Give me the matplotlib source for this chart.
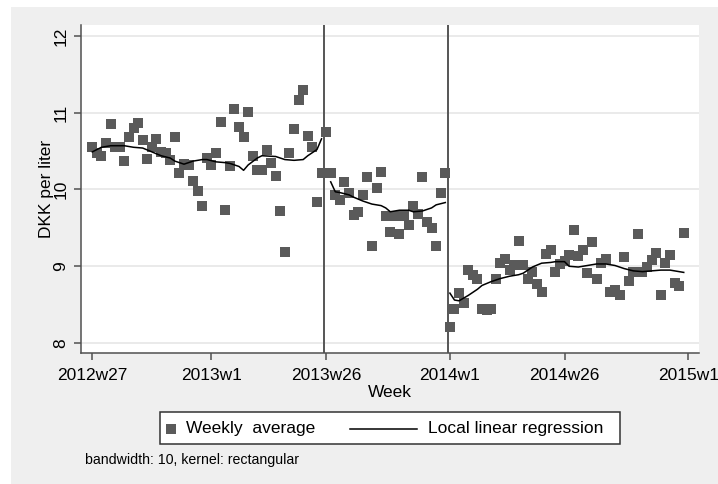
import matplotlib
matplotlib.use("Agg")
import matplotlib.pyplot as plt
from matplotlib.patches import Rectangle
from matplotlib.lines import Line2D

plt.rcParams['font.family'] = ['Liberation Sans', 'DejaVu Sans']


def stata_week(label):
    """Convert a 'YYYYwNN' label into Stata's weekly date code."""
    year, week = label.split('w')
    return (int(year) - 1960) * 52 + int(week) - 1


# Weekly average price (DKK per liter), one value per week from 2012w27
first_week = "2012w27"
weekly_avg = [
    10.55, 10.47, 10.43, 10.61, 10.85, 10.55, 10.56, 10.37, 10.69, 10.80,
    10.87, 10.64, 10.40, 10.55, 10.66, 10.49, 10.48, 10.39, 10.69, 10.22,
    10.33, 10.32, 10.11, 9.98, 9.78, 10.41, 10.32, 10.48, 10.88, 9.73,
    10.30, 11.05, 10.81, 10.68, 11.01, 10.43, 10.26, 10.26, 10.52, 10.34,
    10.18, 9.72, 9.19, 10.48, 10.79, 11.16, 11.29, 10.70, 10.56, 9.84,
    10.22, 10.75, 10.22, 9.93, 9.86, 10.10, 9.95, 9.67, 9.71, 9.93,
    10.16, 9.26, 10.02, 10.23, 9.65, 9.45, 9.65, 9.42, 9.66, 9.54,
    9.78, 9.68, 10.16, 9.58, 9.50, 9.27, 9.95, 10.21, 8.21, 8.44,
    8.65, 8.52, 8.95, 8.89, 8.84, 8.44, 8.43, 8.44, 8.84, 9.04,
    9.10, 8.95, 9.02, 9.33, 9.02, 8.83, 8.92, 8.77, 8.66, 9.16,
    9.21, 8.92, 9.03, 9.07, 9.15, 9.47, 9.13, 9.21, 8.91, 9.32,
    8.84, 9.04, 9.09, 8.67, 8.69, 8.63, 9.12, 8.81, 8.93, 9.42,
    8.92, 8.99, 9.08, 9.17, 8.63, 9.04, 9.15, 8.78, 8.74, 9.43,
]

# Local linear regression fits (Stata week codes, fitted DKK per liter)
fit1_weeks = [2730, 2732, 2734, 2737, 2739, 2741, 2743, 2745, 2747, 2748,
              2750, 2752, 2754, 2755, 2757, 2759, 2760, 2762, 2763, 2764,
              2766, 2767, 2770, 2772, 2774, 2776, 2777, 2779, 2780]
fit1_vals = [10.49, 10.55, 10.57, 10.57, 10.55, 10.54, 10.49, 10.44, 10.41, 10.37,
             10.33, 10.37, 10.39, 10.39, 10.36, 10.35, 10.34, 10.30, 10.25, 10.32,
             10.41, 10.44, 10.43, 10.39, 10.38, 10.39, 10.44, 10.52, 10.66]

fit2_weeks = [2782, 2783, 2784, 2786, 2787, 2789, 2791, 2793, 2794, 2795,
              2797, 2799, 2800, 2802, 2804, 2805, 2807]
fit2_vals = [10.10, 9.97, 9.96, 9.93, 9.90, 9.85, 9.81, 9.79, 9.76, 9.71,
             9.73, 9.73, 9.71, 9.72, 9.76, 9.80, 9.83]

fit3_weeks = [2808, 2809, 2810, 2812, 2814, 2815, 2817, 2819, 2821, 2823,
              2824, 2826, 2828, 2830, 2831, 2833, 2834, 2836, 2838, 2840,
              2842, 2844, 2846, 2848, 2850, 2852, 2854, 2856, 2858, 2859]
fit3_vals = [8.65, 8.56, 8.55, 8.62, 8.70, 8.75, 8.80, 8.84, 8.87, 8.89,
             8.91, 8.99, 9.04, 9.05, 9.06, 9.06, 9.00, 8.99, 9.01, 9.03,
             9.03, 9.01, 8.97, 8.94, 8.93, 8.94, 8.95, 8.95, 8.93, 8.92]

break_labels = ["2013w26", "2014w1"]
xtick_labels = ["2012w27", "2013w1", "2013w26", "2014w1", "2014w26", "2015w1"]
ytick_values = [8, 9, 10, 11, 12]

weeks = [stata_week(first_week) + i for i in range(len(weekly_avg))]

W, H = 718, 484
fig = plt.figure(figsize=(W / 100, H / 100), dpi=100)
fig.patch.set_facecolor('white')
fig.patches.append(Rectangle((11 / W, 0), 1, 1 - 7 / H, transform=fig.transFigure,
                             facecolor='#efefef', edgecolor='none', zorder=-10))

ax = fig.add_axes([81 / W, 1 - 353 / H, (699 - 81) / W, (353 - 25) / H])
ax.set_facecolor('white')

axis_col = '#505050'
for side in ('top', 'right'):
    ax.spines[side].set_visible(False)
for side in ('left', 'bottom'):
    ax.spines[side].set_color(axis_col)
    ax.spines[side].set_linewidth(1.1)

ax.set_axisbelow(True)
ax.yaxis.grid(True, color='#e8e8e8', linewidth=1.3)

for lab in break_labels:
    ax.axvline(stata_week(lab) - 0.5, color='#555555', linewidth=1.4, zorder=1)

ax.plot(weeks, weekly_avg, linestyle='none', marker='s', markersize=6.8,
        color='#5a5a5a', markeredgewidth=0, zorder=3)
for fw, fv in ((fit1_weeks, fit1_vals), (fit2_weeks, fit2_vals), (fit3_weeks, fit3_vals)):
    ax.plot(fw, fv, color='black', linewidth=1.1, zorder=4)

ax.set_xlim(2727.54, 2862.33)
ax.set_ylim(7.87, 12.143)
ax.set_xticks([stata_week(l) for l in xtick_labels])
ax.set_xticklabels(xtick_labels)
ax.set_yticks(ytick_values)
ax.set_yticklabels([str(v) for v in ytick_values], rotation=90, va='center')
ax.tick_params(direction='out', length=5, width=1.1, color=axis_col,
               labelsize=12.5, labelcolor='black')
ax.tick_params(axis='x', pad=6)
ax.tick_params(axis='y', pad=4)

ax.set_xlabel('Week', fontsize=12.5, labelpad=1)
ax.set_ylabel('DKK per liter', fontsize=12.5, labelpad=0)

# Legend box below the plot
fig.patches.append(Rectangle((160 / W, 1 - 444 / H), (620 - 160) / W, (444 - 412) / H,
                             transform=fig.transFigure, facecolor='white',
                             edgecolor='#333333', linewidth=1.1, zorder=5))
ly = 1 - 429 / H
fig.lines.append(Line2D([171 / W], [ly], transform=fig.transFigure, marker='s',
                        markersize=6.8, color='#5a5a5a', markeredgewidth=0, zorder=6))
fig.text(186 / W, ly, 'Weekly  average', fontsize=12.5, va='center', ha='left', zorder=6)
fig.lines.append(Line2D([350 / W, 417 / W], [ly, ly], transform=fig.transFigure,
                        color='black', linewidth=1.1, zorder=6))
fig.text(428 / W, ly, 'Local linear regression', fontsize=12.5, va='center', ha='left', zorder=6)

fig.text(85 / W, 1 - 460 / H, 'bandwidth: 10, kernel: rectangular', fontsize=10.2,
         va='center', ha='left')

fig.savefig('out.png', dpi=100)
